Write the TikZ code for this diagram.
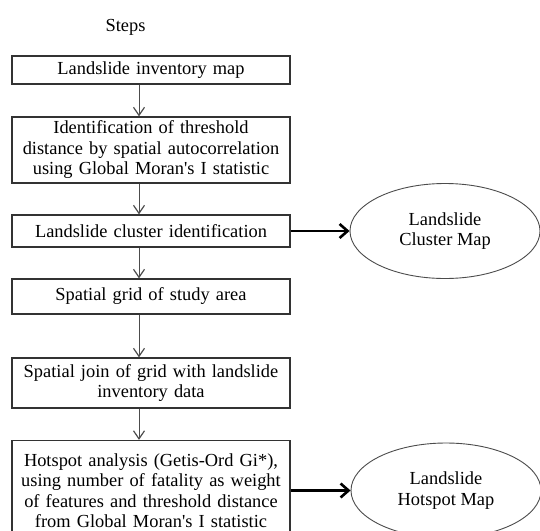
\documentclass[tikz,border=0pt]{standalone}
\usepackage{fontspec}
\setmainfont{Liberation Serif}
\usetikzlibrary{arrows.meta,shapes.geometric,calc}
\begin{document}
\begin{tikzpicture}[x=1pt,y=-1pt,
  txt/.style={font=\fontsize{18.4}{20.5}\selectfont, text=black},
  stepbox/.style={txt, draw=black!80, line width=1.3pt, minimum width=278pt,
    text width=272pt, inner sep=0pt, align=center},
  outcome/.style={txt, ellipse, draw=black!70, line width=0.9pt,
    minimum width=190pt, minimum height=95pt, inner sep=0pt, align=center},
  flow/.style={draw=black!70, line width=1pt,
    -{Straight Barb[length=8pt,width=11pt,line width=1.2pt]}},
  resultflow/.style={draw=black, line width=2.6pt,
    -{Straight Barb[length=8pt,width=14pt,line width=2.6pt]}}
]
\useasboundingbox (0,0) rectangle (540,530);
\fill[white] (0,0) rectangle (540,530);

\node[txt, anchor=base] (title) at (125.5,31) {Steps};

\node[stepbox, minimum height=28pt] (b1) at (151,70) {Landslide inventory map};
\node[stepbox, minimum height=66pt] (b2) at (151,150) {Identification of threshold\\distance by spatial autocorrelation\\using Global Moran\textquotesingle s I statistic};
\node[stepbox, minimum height=32pt] (b3) at (151,231) {Landslide cluster identification};
\node[stepbox, minimum height=35pt] (b4) at (151,296.5) {Spatial grid of study area};
\node[stepbox, minimum height=50pt] (b5) at (151,383) {Spatial join of grid with landslide\\inventory data};
\node[stepbox, minimum height=100pt] (b6) at (151,490.5) {Hotspot analysis (Getis-Ord Gi*),\\using number of fatality as weight\\of features and threshold distance\\from Global Moran\textquotesingle s I statistic};

\node[outcome] (e1) at (445,231) {Landslide\\Cluster Map};
\node[outcome] (e2) at (446,490.5) {Landslide\\Hotspot Map};

\coordinate (ax) at (139,0);
\draw[flow] (b1.south -| ax) -- (b2.north -| ax);
\draw[flow] (b2.south -| ax) -- (b3.north -| ax);
\draw[flow] (b3.south -| ax) -- (b4.north -| ax);
\draw[flow] (b4.south -| ax) -- (b5.north -| ax);
\draw[flow] (b5.south -| ax) -- (b6.north -| ax);

\draw[resultflow] (b3.east) -- (e1.west);
\draw[resultflow] (b6.east) -- (e2.west);
\end{tikzpicture}
\end{document}
